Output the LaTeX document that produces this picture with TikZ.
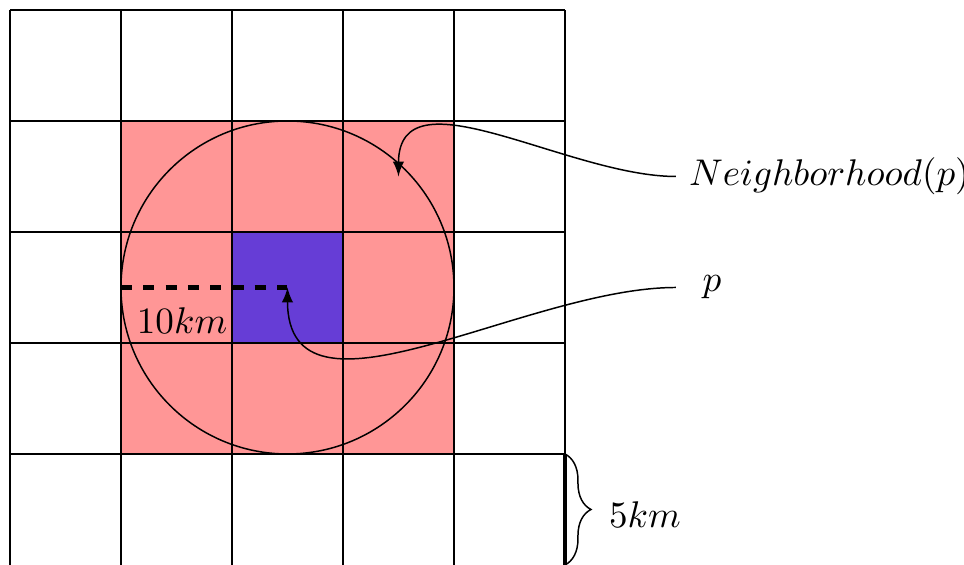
\documentclass[tikz,border=0pt]{standalone}
\usepackage{amssymb,amsmath}
\usepackage{tikz,xcolor}
\usetikzlibrary{decorations.pathreplacing,calc}

\definecolor{cellpink}{RGB}{255,150,150}
\definecolor{cellpurple}{RGB}{102,61,214}

\tikzset{
  pointer/.style={-latex, thin, black},
  sidebrace/.style={decorate, decoration={brace, amplitude=7pt}},
}

\begin{document}
\begin{tikzpicture}[x=1.05cm, y=1.05cm]
\useasboundingbox (-0.09,0) rectangle (8.595,5.09);

%cells
\fill[cellpink] (1,1) rectangle (4,4);
\fill[cellpurple] (2,2) rectangle (3,3);

%grid
\foreach \i in {0,...,5} {\draw (\i,0) -- (\i,5);}
\foreach \j in {1,...,5} {\draw (0,\j) -- (5,\j);}
\draw[very thick] (5,0) -- (5,1);

%circle
\draw[black] (2.5,2.5) circle (1.5);
\coordinate (c) at (2.5,2.5);
\coordinate (rim) at (1,2.5);
\coordinate (inside) at (3.5,3.5);
\draw[very thick, dashed] (rim) -- (c);
\node (radius) at (1.55,2.2) {$10km$};

%labels
\node[right] (nbh) at (6,3.5) {$Neighborhood(p)$};
\node[right, inner xsep=7pt] (p) at (6,2.5) {$p$};

\draw[pointer] (nbh.west) to[out=180, in=90] (inside);
\draw[pointer] (p.west) to[out=180, in=-90] (c);

%brace
\coordinate (btop) at (5,1);
\coordinate (bbot) at (5,0);
\draw[sidebrace] (btop) -- (bbot);
\node (unit) at (5.72,0.45) {$5km$};

\end{tikzpicture}
\end{document}
